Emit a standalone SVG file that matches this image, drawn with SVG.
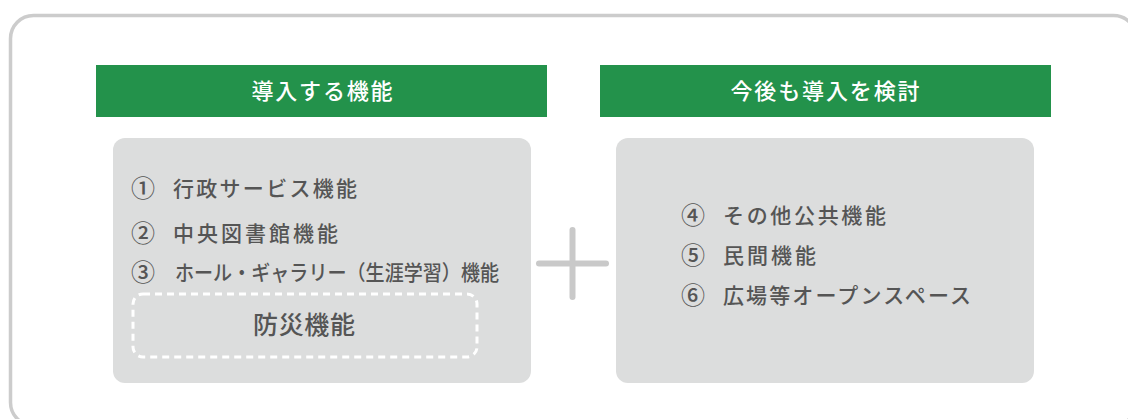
<svg xmlns="http://www.w3.org/2000/svg" width="1128" height="419" viewBox="0 0 1128 419">
<style>
.hd{fill:#23924b}
.hdt{fill:#ffffff;font-family:"Noto Sans CJK JP","Noto Sans",sans-serif;font-size:22px;font-weight:500;text-anchor:middle}
.box{fill:#dcdddd}
.t{fill:#555555;font-family:"Noto Sans CJK JP","Noto Sans",sans-serif;font-size:21px;font-weight:500}
.n{fill:#555555;font-family:"Noto Sans CJK JP","Noto Sans",sans-serif;font-size:24px;font-weight:500}
.big{fill:#555555;font-family:"Noto Sans CJK JP","Noto Sans",sans-serif;font-size:25px;font-weight:500;text-anchor:middle}
</style>
<rect x="10.5" y="15.5" width="1126" height="410" rx="23" fill="#ffffff" stroke="#cccccc" stroke-width="3.5"/>
<g id="header-left">
<rect class="hd" x="96" y="65" width="451" height="52"/>
<text class="hdt" x="322" y="99" textLength="141" lengthAdjust="spacing">導入する機能</text>
</g>
<g id="header-right">
<rect class="hd" x="600" y="65" width="451" height="52"/>
<text class="hdt" x="825" y="99" textLength="189" lengthAdjust="spacing">今後も導入を検討</text>
</g>
<g id="box-left">
<rect class="box" x="113" y="138" width="418" height="245" rx="12"/>
<text class="n" x="131" y="197">①</text>
<text class="t" x="173" y="196" textLength="184" lengthAdjust="spacing">行政サービス機能</text>
<text class="n" x="131" y="242">②</text>
<text class="t" x="173" y="241" textLength="165" lengthAdjust="spacing">中央図書館機能</text>
<text class="n" x="131" y="281">③</text>
<text class="t" x="175" y="280" textLength="324" lengthAdjust="spacingAndGlyphs">ホール・ギャラリー（生涯学習）機能</text>
</g>
<g id="box-disaster">
<rect x="133" y="294" width="344" height="63" rx="10" fill="none" stroke="#ffffff" stroke-width="3" stroke-dasharray="7 5"/>
<text class="big" x="304" y="334" textLength="102" lengthAdjust="spacing">防災機能</text>
</g>
<g id="box-right">
<rect class="box" x="616" y="138" width="418" height="245" rx="12"/>
<text class="n" x="681" y="224">④</text>
<text class="t" x="723" y="223" textLength="163" lengthAdjust="spacing">その他公共機能</text>
<text class="n" x="681" y="264">⑤</text>
<text class="t" x="723" y="263" textLength="93" lengthAdjust="spacing">民間機能</text>
<text class="n" x="681" y="304">⑥</text>
<text class="t" x="723" y="303" textLength="248" lengthAdjust="spacing">広場等オープンスペース</text>
</g>
<g id="connectors">
<g id="plus" stroke="#c9c9c9" stroke-width="6" stroke-linecap="round">
<line x1="572.5" y1="230" x2="572.5" y2="297"/>
<line x1="539" y1="263.5" x2="606" y2="263.5"/>
</g>
</g>
</svg>
